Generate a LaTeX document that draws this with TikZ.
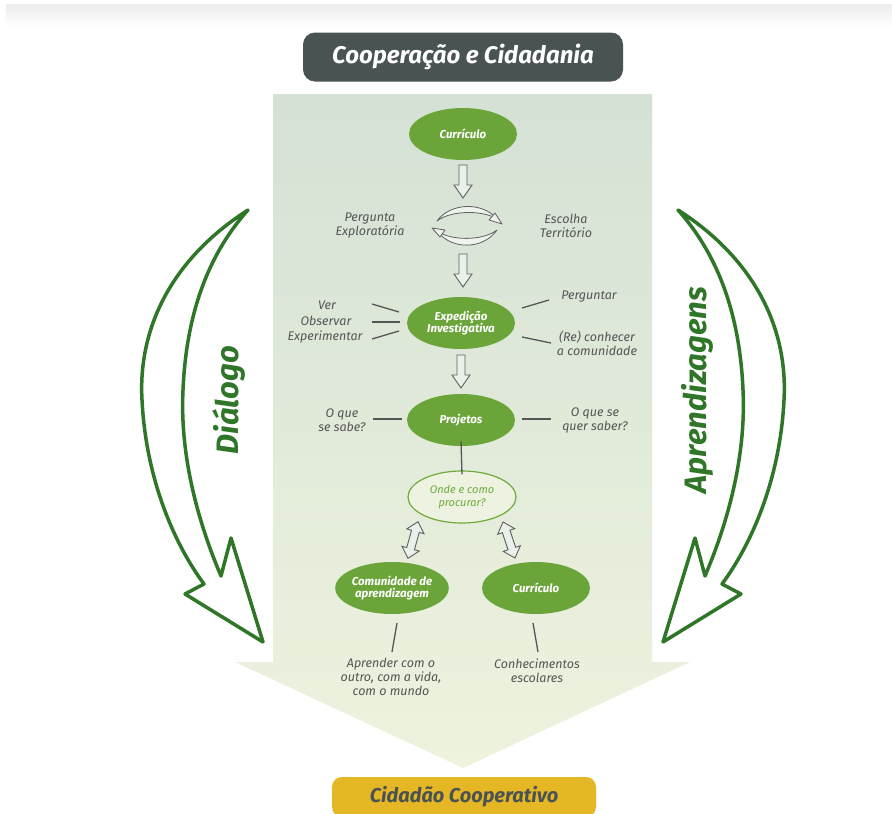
\documentclass[tikz,border=0pt]{standalone}
\usepackage{fontspec}
\setmainfont{Fira Sans}
\usetikzlibrary{shapes.geometric,calc}
\definecolor{gdark}{RGB}{47,118,40}
\definecolor{gfill}{RGB}{107,165,58}
\definecolor{titlegray}{RGB}{74,83,84}
\definecolor{txtgray}{RGB}{85,85,85}
\definecolor{ptop}{RGB}{213,225,213}
\definecolor{pbot}{RGB}{238,243,222}
\definecolor{gold}{RGB}{229,183,36}
\definecolor{ondeg}{RGB}{110,170,60}
\definecolor{ondefill}{RGB}{238,243,225}
\begin{document}
\begin{tikzpicture}[x=1pt,y=-1pt,
 ell/.style={ellipse, fill=gfill, text=white, minimum width=108pt, minimum height=52pt, inner sep=0pt, align=center, font=\bfseries\itshape\fontsize{11.5}{12.5}\selectfont},
 lbl/.style={text=txtgray, align=center, font=\itshape\fontsize{12.5}{14}\selectfont, inner sep=0pt},
 ln/.style={draw=txtgray, line width=1.3pt},
 hol/.style={draw=gray!75!black, fill=ptop!50!white, line width=0.9pt, line join=miter},
 cyc/.style={draw=gray!75!black, line width=0.8pt, fill=white!60!ptop, line join=round},
 side/.style={draw=gdark, line width=3.5pt, fill=white, line join=round},
 sidetxt/.style={text=gdark, font=\bfseries\itshape\fontsize{31}{31}\selectfont, rotate=90, inner sep=0pt}
]
\useasboundingbox (0,0) rectangle (892,814);
\fill[white] (0,0) rectangle (892,814);
\shade[top color=gray!15, bottom color=white] (6,4) rectangle (892,26);

% big panel arrow
\shade[top color=ptop, bottom color=pbot] (273,94) -- (652,94) -- (652,662) -- (690,662) -- (463,768) -- (235,662) -- (273,662) -- cycle;

% title and bottom box
\node[fill=titlegray, rounded corners=12pt, minimum width=320pt, minimum height=49pt, text=white, font=\bfseries\itshape\fontsize{24}{24}\selectfont] (title) at (463,57) {Cooperação e Cidadania};
\node[fill=gold, rounded corners=10pt, minimum width=264pt, minimum height=40pt, text=titlegray, font=\bfseries\itshape\fontsize{20}{20}\selectfont] (cid) at (464,797) {Cidadão Cooperativo};

% side arrows
\path[side] (248,210) .. controls (170,260) and (138,330) .. (142,400) .. controls (146,480) and (175,545) .. (204,584) -- (185,594) -- (263,642) -- (231,538) -- (221,576) .. controls (195,515) and (180,450) .. (183,390) .. controls (186,320) and (205,258) .. cycle;
\begin{scope}[xshift=926pt, xscale=-1]
\path[side] (248,210) .. controls (170,260) and (138,330) .. (142,400) .. controls (146,480) and (175,545) .. (204,584) -- (185,594) -- (263,642) -- (231,538) -- (221,576) .. controls (195,515) and (180,450) .. (183,390) .. controls (186,320) and (205,258) .. cycle;
\end{scope}
\node[sidetxt] (dia) at (229,400) {Diálogo};
\node[sidetxt] (apr) at (697,390) {Aprendizagens};

% central column
\node[ell] (cur1) at (463,134) {Currículo};
% hollow arrow 1
\path[hol] (459,165) -- (467,165) -- (467,185) -- (472,185) -- (463,198) -- (454,185) -- (459,185) -- cycle;
\path[cyc] (437,221) .. controls (451,202) and (483,202) .. (497,219) .. controls (483,210) and (451,210) .. cycle;
\path[cyc] (502,224) -- (489,220) -- (495,213) -- cycle;
\path[cyc] (437,231) .. controls (451,250) and (483,250) .. (497,230) .. controls (483,241) and (451,241) .. cycle;
\path[cyc] (432,228) -- (445,230) -- (440,237) -- cycle;
\node[lbl] (perg) at (370,226) {Pergunta\\Exploratória};
\node[lbl] (esc) at (566,226) {Escolha\\Território};
% hollow arrow 2
\path[hol] (459,254) -- (467,254) -- (467,274) -- (472,274) -- (463,287) -- (454,274) -- (459,274) -- cycle;

\node[ell] (exp) at (461,323) {Expedição\\Investigativa};
\node[lbl] (ver) at (327,305) {Ver};
\node[lbl] (obs) at (326,321) {Observar};
\node[lbl] (expm) at (325,337) {Experimentar};
\node[lbl] (pgt) at (589,297) {Perguntar};
\node[lbl] (rec) at (597,343) {(Re) conhecer\\a comunidade};
\coordinate (v1) at (372,304); \coordinate (v2) at (399,312);
\coordinate (o1) at (372,322); \coordinate (o2) at (400,322);
\coordinate (e1) at (372,339); \coordinate (e2) at (399,331);
\coordinate (p1) at (522,308); \coordinate (p2) at (549,300);
\coordinate (r1) at (522,337); \coordinate (r2) at (551,343);
\draw[ln] (v1) -- (v2); \draw[ln] (o1) -- (o2); \draw[ln] (e1) -- (e2);
\draw[ln] (p1) -- (p2); \draw[ln] (r1) -- (r2);

% hollow arrow 3
\path[hol] (457,355) -- (465,355) -- (465,375) -- (470,375) -- (461,388) -- (452,375) -- (457,375) -- cycle;
\node[ell] (proj) at (461,420) {Projetos};
\node[lbl] (sab) at (342,420) {O que\\se sabe?};
\node[lbl] (qsab) at (595,420) {O que se\\quer saber?};
\coordinate (s1) at (373,419); \coordinate (s2) at (402,419);
\coordinate (q1) at (522,419); \coordinate (q2) at (551,419);
\draw[ln] (s1) -- (s2); \draw[ln] (q1) -- (q2);

\node[ell, fill=ondefill, draw=ondeg, line width=1.2pt, text=ondeg, font=\itshape\fontsize{11}{12.5}\selectfont] (onde) at (462,497) {Onde e como\\procurar?};
\draw[ln] ([yshift=5pt]proj.south) -- ([yshift=-4pt]onde.north);

% double arrows
\begin{scope}[shift={(413,540)}, rotate=-105.5]
\path[hol] (-19,0) -- (-9,9) -- (-9,4) -- (9,4) -- (9,9) -- (19,0) -- (9,-9) -- (9,-4) -- (-9,-4) -- (-9,-9) -- cycle;
\end{scope}
\begin{scope}[shift={(509,540)}, rotate=-71.6]
\path[hol] (-19,0) -- (-9,9) -- (-9,4) -- (9,4) -- (9,9) -- (19,0) -- (9,-9) -- (9,-4) -- (-9,-4) -- (-9,-9) -- cycle;
\end{scope}

\node[ell] (com) at (392,588) {Comunidade de\\aprendizagem};
\node[ell] (cur2) at (536,588) {Currículo};
\node[lbl] (apre) at (391,677) {Aprender com o\\outro, com a vida,\\com o mundo};
\node[lbl] (conh) at (537,671) {Conhecimentos\\escolares};
\coordinate (a1) at (397,623); \coordinate (a2) at (392,652);
\coordinate (c1) at (533,623); \coordinate (c2) at (538,652);
\draw[ln] (a1) -- (a2); \draw[ln] (c1) -- (c2);
\end{tikzpicture}
\end{document}
